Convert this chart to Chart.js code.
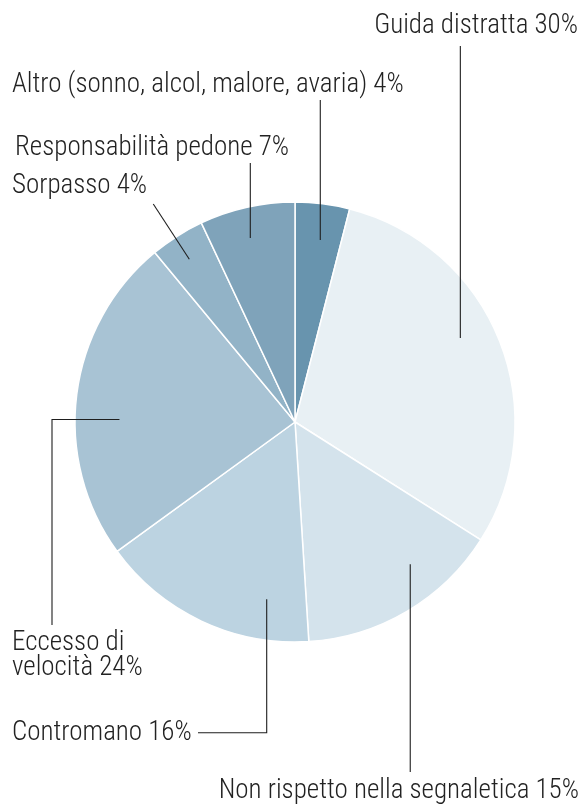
<!DOCTYPE html>
<html>
<head>
<meta charset="utf-8">
<script src="https://cdn.jsdelivr.net/npm/chart.js@4.4.1/dist/chart.umd.min.js"></script>
<style>
html,body{margin:0;padding:0;background:#fff;}
#wrap{width:581px;height:805px;position:relative;}
</style>
</head>
<body>
<div id="wrap"><canvas id="chart"></canvas></div>
<script>
// ---- data ----
const categories = [
  "Altro (sonno, alcol, malore, avaria)",
  "Guida distratta",
  "Non rispetto nella segnaletica",
  "Contromano",
  "Eccesso di velocità",
  "Sorpasso",
  "Responsabilità pedone"
];
const values = [4, 30, 15, 16, 24, 4, 7];
const sliceColors = ["#6894ae", "#e8f0f4", "#d4e3ec", "#bcd3e1", "#a8c3d4", "#92b3c7", "#7fa3ba"];

// ---- label layout (annotation positions, not data) ----
const labelLayout = [
  {lines: [categories[0] + " " + values[0] + "%"], tx: 12, ty: 92, align: "left",
   anchor: [7.91, 0.835], path: [[null, 100]]},
  {lines: [categories[1] + " " + values[1] + "%"], tx: 578, ty: 33, align: "right",
   anchor: [63.06, 0.843], path: [[null, 46]]},
  {lines: [categories[2] + " " + values[2] + "%"], tx: 579, ty: 798, align: "right",
   anchor: [140.98, 0.832], path: [[null, 772]]},
  {lines: [categories[3] + " " + values[3] + "%"], tx: 12, ty: 740, align: "left",
   anchor: [189.07, 0.816], path: [[null, 732.7], [198, null]]},
  {lines: ["Eccesso di", "velocità " + values[4] + "%"], tx: 12, ty: 650, align: "left", lh: 25,
   anchor: [270.8, 0.798], path: [[52, null], [null, 625]]},
  {lines: [categories[5] + " " + values[5] + "%"], tx: 12, ty: 193, align: "left",
   anchor: [327.0, 0.882], path: [[153.3, 204]]},
  {lines: [categories[6] + " " + values[6] + "%"], tx: 15, ty: 155, align: "left",
   anchor: [346.35, 0.861], path: [[null, 163]]}
];

const leaderPlugin = {
  id: "leaders",
  afterDatasetsDraw(chart) {
    const ctx = chart.ctx;
    const meta = chart.getDatasetMeta(0);
    const arc0 = meta.data[0];
    const cx = arc0.x, cy = arc0.y, R = arc0.outerRadius;
    ctx.save();
    ctx.strokeStyle = "#1e1e1e";
    ctx.lineWidth = 1.1;
    ctx.fillStyle = "#222222";
    ctx.font = "300 27px 'Roboto Condensed', 'Liberation Sans Narrow', sans-serif";
    ctx.textBaseline = "alphabetic";
    labelLayout.forEach((L) => {
      const a = L.anchor[0] * Math.PI / 180;
      let x = cx + Math.sin(a) * R * L.anchor[1];
      let y = cy - Math.cos(a) * R * L.anchor[1];
      ctx.beginPath();
      ctx.moveTo(x, y);
      L.path.forEach((p) => {
        if (p[0] !== null) x = p[0];
        if (p[1] !== null) y = p[1];
        ctx.lineTo(x, y);
      });
      ctx.stroke();
      ctx.textAlign = L.align;
      L.lines.forEach((t, i) => ctx.fillText(t, L.tx, L.ty + i * (L.lh || 0)));
    });
    ctx.restore();
  }
};

new Chart(document.getElementById("chart"), {
  type: "pie",
  data: {
    labels: categories,
    datasets: [{
      data: values,
      backgroundColor: sliceColors,
      borderColor: "#ffffff",
      borderWidth: 1.5,
      hoverOffset: 0
    }]
  },
  options: {
    responsive: true,
    maintainAspectRatio: false,
    animation: false,
    radius: 220,
    layout: {padding: {left: 9, right: 0, top: 39, bottom: 0}},
    plugins: {legend: {display: false}, tooltip: {enabled: false}, title: {display: false}},
    events: []
  },
  plugins: [leaderPlugin]
});
</script>
</body>
</html>
